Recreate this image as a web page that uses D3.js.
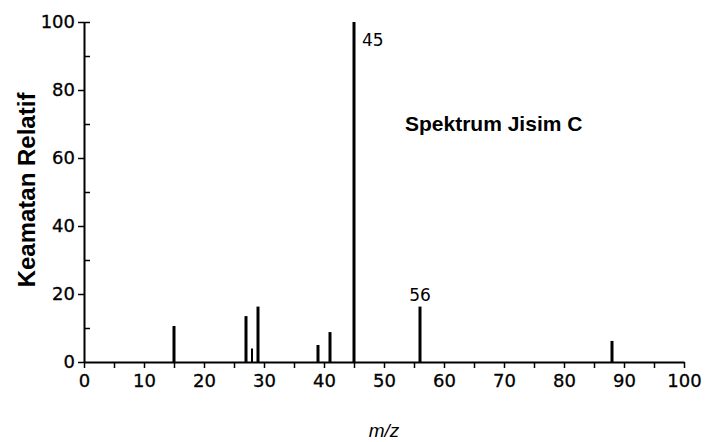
<!DOCTYPE html>
<html>
<head>
<meta charset="utf-8">
<script src="https://cdn.jsdelivr.net/npm/d3@7"></script>
<style>
  body { margin: 0; background: #fff; }
  svg { display: block; font-family: "Liberation Sans", Arial, sans-serif; }
</style>
</head>
<body>
<main></main>
<script>
const w = 706;
const h = 442;

// peaks
const mz = [15, 27, 28, 29, 39, 41, 45, 56, 88];
const intensity = [10.6, 13.5, 4, 16.3, 5, 8.8, 100, 16.3, 6.2];
const yMajor = [0, 20, 40, 60, 80, 100];
const yMinor = [10, 30, 50, 70, 90, 100];
const xTicks = d3.range(0, 101, 5);

const numFont = '"DejaVu Sans", sans-serif';

const x = d3.scaleLinear().domain([0, 100]).range([84, 684]);
const y = d3.scaleLinear().domain([0, 100]).range([362, 22]);

const svg = d3
  .select("main")
  .append("svg")
  .attr("width", w)
  .attr("height", h);

// x axis
const xAxis = svg
  .append("g")
  .attr("transform", `translate(0, ${y(0)})`)
  .call(
    d3
      .axisBottom(x)
      .tickValues(xTicks)
      .tickSize(6)
      .tickSizeOuter(0)
      .tickPadding(6)
      .tickFormat((d) => (d % 10 === 0 ? d : ""))
  );
xAxis.select(".domain").attr("stroke-width", 2);
xAxis.selectAll(".tick line").attr("stroke-width", 1.5);
xAxis
  .selectAll(".tick text")
  .attr("font-family", numFont)
  .attr("font-size", 18)
  .attr("fill", "#000")
  .attr("stroke", "#000")
  .attr("stroke-width", 0.3);

// y axis, labelled ticks point out, minor ticks point in
const yAxis = svg
  .append("g")
  .attr("transform", `translate(${x(0)}, 0)`)
  .call(
    d3.axisLeft(y).tickValues(yMajor).tickSize(6).tickSizeOuter(0).tickPadding(3)
  );
yAxis.select(".domain").attr("stroke-width", 2);
yAxis.selectAll(".tick line").attr("stroke-width", 1.5);
yAxis
  .selectAll(".tick text")
  .attr("font-family", numFont)
  .attr("font-size", 18)
  .attr("fill", "#000")
  .attr("stroke", "#000")
  .attr("stroke-width", 0.3);

const yMinorAxis = svg
  .append("g")
  .attr("transform", `translate(${x(0)}, 0)`)
  .call(
    d3
      .axisRight(y)
      .tickValues(yMinor)
      .tickSize(6)
      .tickSizeOuter(0)
      .tickFormat("")
  );
yMinorAxis.select(".domain").remove();
yMinorAxis.selectAll(".tick line").attr("stroke-width", 1.5);

// peaks
svg
  .append("g")
  .selectAll("line")
  .data(mz)
  .join("line")
  .attr("x1", (d) => x(d))
  .attr("x2", (d) => x(d))
  .attr("y1", y(0))
  .attr("y2", (d, i) => y(intensity[i]))
  .attr("stroke", "#000")
  .attr("stroke-width", (d, i) => (intensity[i] < 5 ? 2 : 3));

// peak labels
svg
  .append("text")
  .attr("x", x(45) + 8)
  .attr("y", y(100) + 24)
  .attr("font-family", numFont)
  .attr("font-size", 17)
  .text("45");

svg
  .append("text")
  .attr("x", x(56))
  .attr("y", y(intensity[mz.indexOf(56)]) - 6)
  .attr("text-anchor", "middle")
  .attr("font-family", numFont)
  .attr("font-size", 17)
  .text("56");

// chart caption
svg
  .append("text")
  .attr("x", 405)
  .attr("y", 131)
  .attr("font-size", 21)
  .attr("font-weight", "bold")
  .text("Spektrum Jisim C");

// axis titles
svg
  .append("text")
  .attr("transform", `translate(35, ${y(50) - 2}) rotate(-90)`)
  .attr("text-anchor", "middle")
  .attr("font-size", 24)
  .attr("font-weight", "bold")
  .text("Keamatan Relatif");

svg
  .append("text")
  .attr("x", (x(0) + x(100)) / 2)
  .attr("y", 437)
  .attr("text-anchor", "middle")
  .attr("font-size", 19)
  .attr("font-style", "italic")
  .text("m/z");
</script>
</body>
</html>
